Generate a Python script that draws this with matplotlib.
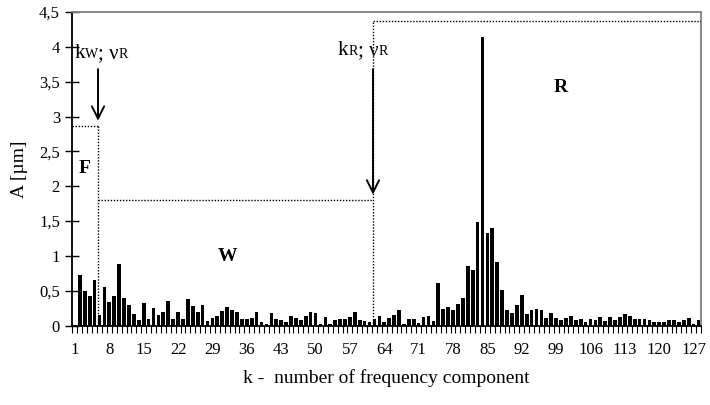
import matplotlib
matplotlib.use("Agg")
import matplotlib.pyplot as plt
import numpy as np
from matplotlib.offsetbox import TextArea, HPacker, AnnotationBbox

plt.rcParams['font.family'] = ['Liberation Serif', 'DejaVu Serif']

# k = 1..128 ; A [um]
amplitudes = [0.0,
    0.73, 0.50, 0.43, 0.65, 0.15, 0.56, 0.34, 0.42, 0.89, 0.40,
    0.30, 0.17, 0.08, 0.32, 0.10, 0.25, 0.16, 0.20, 0.35, 0.10,
    0.20, 0.10, 0.39, 0.28, 0.20, 0.30, 0.07, 0.11, 0.14, 0.21,
    0.27, 0.23, 0.20, 0.10, 0.10, 0.11, 0.19, 0.06, 0.03, 0.18,
    0.10, 0.08, 0.05, 0.14, 0.11, 0.08, 0.14, 0.20, 0.18, 0.03,
    0.12, 0.02, 0.08, 0.10, 0.10, 0.12, 0.20, 0.08, 0.07, 0.05,
    0.10, 0.14, 0.06, 0.11, 0.16, 0.22, 0.03, 0.10, 0.10, 0.04,
    0.12, 0.14, 0.07, 0.61, 0.24, 0.27, 0.22, 0.31, 0.40, 0.85,
    0.80, 1.49, 4.14, 1.33, 1.40, 0.92, 0.51, 0.23, 0.18, 0.29,
    0.44, 0.17, 0.22, 0.24, 0.22, 0.11, 0.18, 0.11, 0.08, 0.11,
    0.14, 0.08, 0.09, 0.05, 0.10, 0.08, 0.13, 0.07, 0.12, 0.08,
    0.13, 0.17, 0.14, 0.10, 0.09, 0.10, 0.08, 0.06, 0.06, 0.06,
    0.08, 0.08, 0.06, 0.08, 0.11, 0.02, 0.08]
k = np.arange(1, len(amplitudes) + 1)
xtick_labels = list(range(1, 128, 7))
ytick_values = [0, 0.5, 1, 1.5, 2, 2.5, 3, 3.5, 4, 4.5]
ytick_labels = ['0', '0,5', '1', '1,5', '2', '2,5', '3', '3,5', '4', '4,5']

# region boundaries (k) and levels (A)
k_W, k_R = 5.7, 61.7
level_F, level_W, level_R = 2.87, 1.81, 4.37

fig = plt.figure(figsize=(7.1, 4.05), dpi=100)
ax = fig.add_axes([0.1021, 0.1958, 0.8852, 0.7746])

ax.bar(k, amplitudes, width=0.75, color='black', zorder=3)
ax.set_xlim(0.5, len(amplitudes) + 0.5)
ax.set_ylim(0, 4.5)

ax.set_xticks(xtick_labels)
ax.set_xticklabels([str(v) for v in xtick_labels], fontsize=12)
ax.set_xticks(np.arange(0.5, len(amplitudes) + 1, 1), minor=True)
ax.tick_params(axis='x', which='major', length=0, pad=12)
ax.tick_params(axis='x', which='minor', length=5, width=0.8, direction='out')
ax.set_yticks(ytick_values)
ax.set_yticklabels(ytick_labels, fontsize=12)
ax.tick_params(axis='y', which='major', length=10, width=1, direction='inout', pad=4)

for s in ['left', 'bottom']:
    ax.spines[s].set_color('black')
    ax.spines[s].set_linewidth(1.3)
for s in ['top', 'right']:
    ax.spines[s].set_color('#808080')
    ax.spines[s].set_linewidth(1.3)

ax.set_xlabel('k -  number of frequency component', fontsize=14, labelpad=8)
ax.set_ylabel('A [µm]', fontsize=14, labelpad=8)

ls = dict(color='black', linestyle=(0, (1, 1.2)), linewidth=1.0, zorder=4)
ax.plot([0.5, k_W], [level_F, level_F], **ls)
ax.plot([k_W, k_W], [0, level_F], **ls)
ax.plot([k_W, k_R], [level_W, level_W], **ls)
ax.plot([k_R, k_R], [0, level_R], **ls)
ax.plot([k_R, len(amplitudes) + 0.5], [level_R, level_R], **ls)

ax.text(3.0, 2.25, 'F', fontsize=14, fontweight='bold', ha='center', va='center')
ax.text(32, 0.99, 'W', fontsize=14, fontweight='bold', ha='center', va='center')
ax.text(100, 3.42, 'R', fontsize=14, fontweight='bold', ha='center', va='center')

arrowprops = dict(arrowstyle='->', color='black', lw=1.4, mutation_scale=22)
ax.annotate('', xy=(k_W, level_F + 0.03), xytext=(k_W, 3.72), arrowprops=arrowprops)
ax.annotate('', xy=(k_R, level_W + 0.03), xytext=(k_R, 3.72), arrowprops=arrowprops)


def label(x, y, sub1, sub2):
    parts = [TextArea('k', textprops=dict(fontsize=15)),
             TextArea(sub1, textprops=dict(fontsize=10)),
             TextArea('; ν', textprops=dict(fontsize=15)),
             TextArea(sub2, textprops=dict(fontsize=10))]
    box = HPacker(children=parts, align='baseline', pad=0, sep=0)
    ab = AnnotationBbox(box, (x, y), frameon=False, box_alignment=(0.5, 0.5),
                        xycoords='data')
    ax.add_artist(ab)


label(6.3, 3.9, 'W', 'R')
label(59.6, 3.95, 'R', 'R')

fig.savefig('out.png', dpi=100)
